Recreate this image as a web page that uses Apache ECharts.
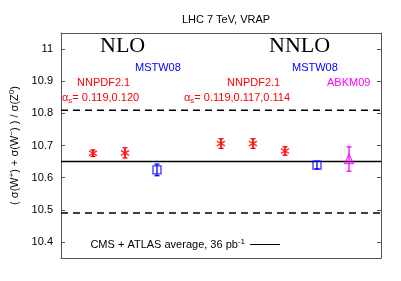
<!DOCTYPE html>
<html><head><meta charset="utf-8">
<script src="https://cdn.jsdelivr.net/npm/echarts@6/dist/echarts.min.js"></script>
<style>html,body{margin:0;padding:0;background:#fff}#c{width:401px;height:281px}</style>
</head><body><div id="c"></div>
<script>
// data
const nnpdfX = [1, 2, 5, 6, 7];
const nnpdfY = [10.676, 10.677, 10.706, 10.706, 10.683];
const nnpdfErr = [0.010, 0.016, 0.015, 0.015, 0.013];
const mstwX = [3, 8];
const mstwY = [10.624, 10.639];
const mstwErr = [0.018, 0.012];
const abkmX = [9];
const abkmY = [10.658];
const abkmErr = [0.038];
const avg = 10.65;
const bandHi = 10.81;
const bandLo = 10.49;
const yTicks = [10.4, 10.5, 10.6, 10.7, 10.8, 10.9, 11];

const chart = echarts.init(document.getElementById('c'), null, {renderer: 'canvas'});
const FONT = 'Liberation Sans, Arial, sans-serif';

function errSeries(xs, ys, es, color) {
  return {
    type: 'custom', silent: true, z: 3,
    data: xs.map((x, i) => [x, ys[i] - es[i], ys[i] + es[i]]),
    renderItem: function (params, api) {
      const lo = api.coord([api.value(0), api.value(1)]);
      const hi = api.coord([api.value(0), api.value(2)]);
      const w = 2.5;
      const st = {stroke: color, lineWidth: 1.3};
      return {type: 'group', children: [
        {type: 'line', shape: {x1: lo[0], y1: lo[1], x2: hi[0], y2: hi[1]}, style: st},
        {type: 'line', shape: {x1: lo[0] - w, y1: lo[1], x2: lo[0] + w, y2: lo[1]}, style: st},
        {type: 'line', shape: {x1: hi[0] - w, y1: hi[1], x2: hi[0] + w, y2: hi[1]}, style: st}
      ]};
    }
  };
}
function hline(y, type, name) {
  return {type: 'line', name: name, data: [[0, y], [10, y]], symbol: 'none', silent: true, z: 1,
    itemStyle: {color: '#000'},
    lineStyle: {color: '#000', width: 1.5, type: type === 'dashed' ? [7, 5] : 'solid'}};
}
const legendName = 'CMS + ATLAS average, 36 pb';

function txt(x, y, t, color) {
  return {type: 'text', x: x, y: y, style: {text: t, fontFamily: FONT, fontSize: 11, fill: color}};
}
function alphaText(x, y, vals) {
  return {type: 'text', x: x, y: y, style: {
    text: '{a|α}{s|s}{a|= ' + vals + '}', fontFamily: FONT,
    rich: {a: {fontFamily: FONT, fontSize: 11, fill: '#ff0000', color: '#ff0000'},
           s: {fontFamily: FONT, fontSize: 8, fill: '#ff0000', color: '#ff0000', verticalAlign: 'bottom', padding: [6, 0, 0, 0]}}
  }};
}
const axLine = {show: true, onZero: false, lineStyle: {color: '#555', width: 1}};

chart.setOption({
  animation: false,
  backgroundColor: '#fff',
  title: {text: 'LHC 7 TeV, VRAP', left: 221, top: 9, textAlign: 'center',
    textStyle: {fontFamily: FONT, fontSize: 11, fontWeight: 'normal', color: '#000'}},
  grid: {left: 61, right: 20, top: 33, bottom: 23, show: false},
  xAxis: [{type: 'value', min: 0, max: 10, position: 'bottom',
    axisLine: axLine, axisTick: {show: false}, axisLabel: {show: false}, splitLine: {show: false}},
    {type: 'value', min: 0, max: 10, position: 'top',
    axisLine: axLine, axisTick: {show: false}, axisLabel: {show: false}, splitLine: {show: false}}],
  yAxis: [{type: 'value', min: 10.35, max: 11.05,
    axisLine: axLine,
    axisTick: {show: true, inside: true, length: 4, customValues: yTicks, lineStyle: {color: '#555'}},
    axisLabel: {customValues: yTicks, color: '#000', fontFamily: FONT, fontSize: 11, margin: 8,
      formatter: v => String(+v.toFixed(1))},
    splitLine: {show: false},
    name: '( σ(W{sup|+}) + σ(W{sup|−}) ) / σ(Z{sup|0})', nameLocation: 'middle', nameGap: 40, nameRotate: 90,
    nameTextStyle: {fontFamily: FONT, fontSize: 11, color: '#000',
      rich: {sup: {fontFamily: FONT, fontSize: 8, color: '#000', verticalAlign: 'top', padding: [0, 0, 5, 0]}}}
  }, {type: 'value', min: 10.35, max: 11.05, position: 'right',
    axisLine: axLine,
    axisTick: {show: true, inside: true, length: 4, customValues: yTicks, lineStyle: {color: '#555'}},
    axisLabel: {show: false}, splitLine: {show: false}}],
  legend: {show: true, data: [legendName], right: 116, bottom: 26, orient: 'horizontal', align: 'right',
    itemWidth: 30, itemHeight: 10, itemGap: 4, selectedMode: false,
    icon: 'path://M0,4.5L30,4.5L30,5.5L0,5.5Z',
    itemStyle: {color: '#000'},
    formatter: n => n + '{sup|-1}',
    textStyle: {fontFamily: FONT, fontSize: 11, color: '#000',
      rich: {sup: {fontFamily: FONT, fontSize: 8, color: '#000', verticalAlign: 'top', padding: [0, 0, 6, 0]}}}},
  graphic: [
    {type: 'text', left: 100, top: 35, style: {text: 'NLO', fontFamily: 'Liberation Serif, serif', fontSize: 22, fill: '#000'}},
    {type: 'text', left: 269, top: 35, style: {text: 'NNLO', fontFamily: 'Liberation Serif, serif', fontSize: 22, fill: '#000'}},
    txt(135, 62, 'MSTW08', '#0000ff'),
    txt(292, 62, 'MSTW08', '#0000ff'),
    txt(77, 77, 'NNPDF2.1', '#ff0000'),
    txt(227, 77, 'NNPDF2.1', '#ff0000'),
    txt(327, 77, 'ABKM09', '#ff00ff'),
    alphaText(62, 91, '0.119,0.120'),
    alphaText(184, 91, '0.119,0.117,0.114')
  ],
  series: [
    hline(avg, 'solid', legendName),
    hline(bandHi, 'dashed'),
    hline(bandLo, 'dashed'),
    errSeries(nnpdfX, nnpdfY, nnpdfErr, '#ff0000'),
    errSeries(mstwX, mstwY, mstwErr, '#0000ff'),
    errSeries(abkmX, abkmY, abkmErr, '#ff00ff'),
    {type: 'scatter', z: 4, data: nnpdfX.map((x, i) => [x, nnpdfY[i]]),
      symbol: 'path://M0,-1L0,1M-0.8,-0.6L0.8,0.6M-0.8,0.6L0.8,-0.6', symbolSize: 8,
      itemStyle: {color: 'none', borderColor: '#ff0000', borderWidth: 1.5}},
    {type: 'scatter', z: 4, data: mstwX.map((x, i) => [x, mstwY[i]]),
      symbol: 'rect', symbolSize: 8,
      itemStyle: {color: 'none', borderColor: '#0000ff', borderWidth: 1.3}},
    {type: 'scatter', z: 4, data: abkmX.map((x, i) => [x, abkmY[i]]),
      symbol: 'triangle', symbolSize: 9,
      itemStyle: {color: 'none', borderColor: '#ff00ff', borderWidth: 1.3}}
  ]
});
</script></body></html>
